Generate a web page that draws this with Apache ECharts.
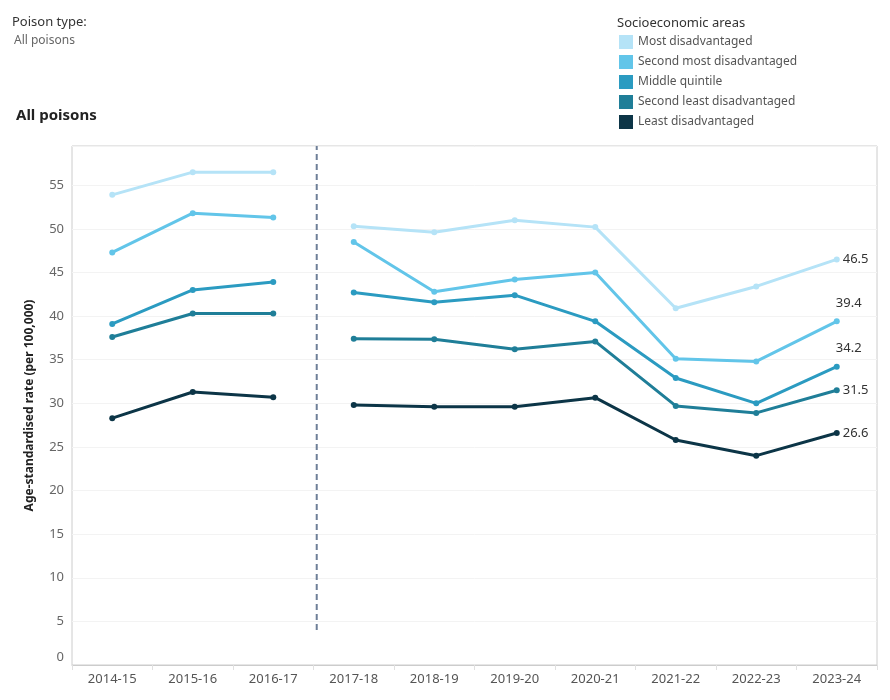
<!DOCTYPE html>
<html>
<head>
<meta charset="utf-8">
<script src="https://cdn.jsdelivr.net/npm/echarts@6/dist/echarts.min.js"></script>
<style>
  body { margin: 0; background: #fff; }
  #chart { width: 890px; height: 700px; }
</style>
</head>
<body>
<div id="chart"></div>
<script>
var years = ["2014-15", "2015-16", "2016-17", "2017-18", "2018-19", "2019-20", "2020-21", "2021-22", "2022-23", "2023-24"];
var groupNames = ["Most disadvantaged", "Second most disadvantaged", "Middle quintile", "Second least disadvantaged", "Least disadvantaged"];
var mostDisadv = [53.9, 56.5, 56.5, 50.3, 49.6, 51.0, 50.2, 40.9, 43.4, 46.5];
var secondMost = [47.3, 51.8, 51.3, 48.5, 42.8, 44.2, 45.0, 35.1, 34.8, 39.4];
var middleQuint = [39.1, 43.0, 43.9, 42.7, 41.6, 42.4, 39.4, 32.9, 30.0, 34.2];
var secondLeast = [37.6, 40.3, 40.3, 37.4, 37.35, 36.2, 37.1, 29.7, 28.9, 31.5];
var leastDisadv = [28.3, 31.3, 30.7, 29.8, 29.6, 29.6, 30.65, 25.8, 24.0, 26.6];
var colors = ["#b5e3f7", "#62c5e9", "#2b9bc1", "#1f7e98", "#0c3547"];
// dashed break line between 2016-17 and 2017-18
var breakAt = 3.04;
var breakFrom = 4;

var FONT = "Noto Sans";
var chart = echarts.init(document.getElementById("chart"), null, { renderer: "canvas" });

function lineSeries(name, data, color, labelPos) {
  return {
    name: name,
    type: "line",
    data: data,
    symbol: "circle",
    symbolSize: 6,
    lineStyle: { width: 3, color: color },
    itemStyle: { color: color },
    label: {
      show: true,
      position: labelPos.pos,
      offset: labelPos.offset,
      fontFamily: FONT,
      fontSize: 13,
      color: "#333",
      formatter: function (p) {
        return p.dataIndex === years.length - 1 ? p.value.toFixed(1) : "";
      }
    },
    emphasis: { disabled: true }
  };
}

var seriesList = [];
var allData = [mostDisadv, secondMost, middleQuint, secondLeast, leastDisadv];
var labelPos = [
  { pos: "right", offset: [-2, 0] },
  { pos: "top", offset: [12, -4] },
  { pos: "top", offset: [12, -4] },
  { pos: "right", offset: [-2, 0] },
  { pos: "right", offset: [-2, 0] }
];
// each group is drawn in two pieces, before and after the break
allData.forEach(function (arr, k) {
  var first = arr.map(function (v, i) { return i < 3 ? v : null; });
  var second = arr.map(function (v, i) { return i >= 3 ? v : null; });
  var s1 = lineSeries(groupNames[k], first, colors[k], labelPos[k]);
  var s2 = lineSeries(groupNames[k], second, colors[k], labelPos[k]);
  s1.label.show = false;
  seriesList.push(s1, s2);
});

seriesList.push({
  type: "line",
  xAxisIndex: 1,
  data: [[breakAt, breakFrom], [breakAt, 59.5]],
  symbol: "none",
  lineStyle: { color: "#6e7f98", width: 2, type: [6, 4] },
  silent: true,
  z: 1
});

chart.setOption({
  animation: false,
  textStyle: { fontFamily: FONT },
  graphic: [
    { type: "text", left: 12, top: 16, style: { text: "Poison type:", font: "13px " + FONT, fill: "#333" } },
    { type: "text", left: 14, top: 35, style: { text: "All poisons", font: "12px " + FONT, fill: "#666" } },
    { type: "text", left: 16, top: 108, style: { text: "All poisons", font: "bold 15px " + FONT, fill: "#222" } },
    { type: "text", left: 617, top: 17, style: { text: "Socioeconomic areas", font: "13px " + FONT, fill: "#333" } }
  ],
  legend: {
    orient: "vertical",
    left: 614,
    top: 30,
    itemWidth: 14,
    itemHeight: 14,
    itemGap: 6,
    icon: "rect",
    data: groupNames.map(function (n, k) {
      return { name: n, itemStyle: { color: colors[k] } };
    }),
    textStyle: { fontFamily: FONT, fontSize: 12, color: "#555" },
    selectedMode: false
  },
  grid: {
    left: 72,
    right: 13,
    top: 146,
    bottom: 35,
    show: true,
    borderColor: "#cccccc",
    borderWidth: 1
  },
  xAxis: [
    {
      type: "category",
      data: years,
      boundaryGap: true,
      axisLine: { lineStyle: { color: "#cccccc" } },
      axisTick: { show: true, length: 5, lineStyle: { color: "#e0e0e0" } },
      axisLabel: { fontFamily: FONT, fontSize: 13, color: "#555", margin: 8 }
    },
    {
      type: "value",
      min: 0,
      max: 10,
      show: false
    }
  ],
  yAxis: {
    type: "value",
    min: 0,
    max: 59.5,
    interval: 5,
    name: "Age-standardised rate (per 100,000)",
    nameLocation: "middle",
    nameGap: 36,
    nameTextStyle: { fontFamily: FONT, fontSize: 12, fontWeight: "bold", color: "#222" },
    axisLine: { show: false },
    axisTick: { show: false },
    splitLine: { lineStyle: { color: "#f3f3f3" } },
    axisLabel: {
      fontFamily: FONT,
      fontSize: 13,
      color: "#666",
      margin: 8,
      formatter: function (v) {
        if (v % 5 !== 0) return "";
        if (v === 0) return "{z|0}";
        return String(v);
      },
      rich: { z: { fontFamily: FONT, fontSize: 13, color: "#666", padding: [0, 0, 16, 0] } }
    }
  },
  series: seriesList
});
</script>
</body>
</html>
